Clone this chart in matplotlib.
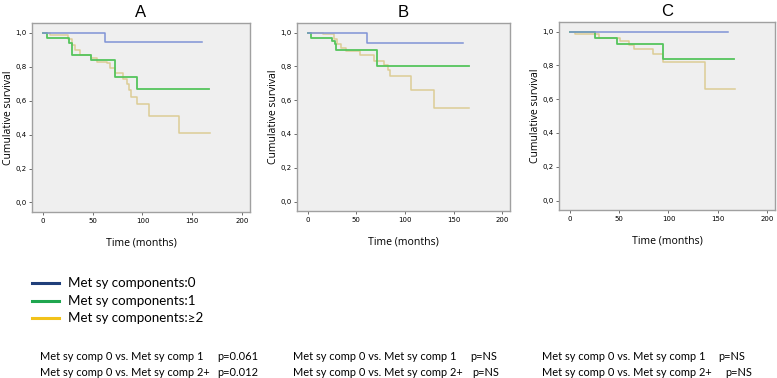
import matplotlib.pyplot as plt

# Kaplan-Meier step data (months, cumulative survival)
a_blue_t = [0, 62, 160]
a_blue_s = [1.0, 0.945, 0.945]
a_green_t = [0, 4, 26, 29, 48, 72, 94, 167]
a_green_s = [1.0, 0.97, 0.94, 0.87, 0.84, 0.74, 0.67, 0.67]
a_yel_t = [0, 7, 25, 29, 32, 37, 48, 54, 64, 67, 72, 80, 84, 86, 88, 94, 107, 137, 168]
a_yel_s = [1.0, 0.985, 0.96, 0.93, 0.90, 0.87, 0.85, 0.83, 0.82, 0.79, 0.76, 0.73, 0.70,
           0.66, 0.62, 0.58, 0.507, 0.408, 0.408]

b_blue_t = [0, 61, 160]
b_blue_s = [1.0, 0.94, 0.94]
b_green_t = [0, 3.5, 25, 28, 29.5, 71, 166]
b_green_s = [1.0, 0.97, 0.95, 0.93, 0.90, 0.80, 0.80]
b_yel_t = [0, 16, 27, 30, 34, 39, 54, 68, 78, 83, 85, 106, 130, 166]
b_yel_s = [1.0, 0.99, 0.96, 0.93, 0.91, 0.89, 0.87, 0.83, 0.81, 0.78, 0.742, 0.66, 0.551, 0.551]

c_blue_t = [0, 160]
c_blue_s = [1.0, 1.0]
c_green_t = [0, 25, 48, 94, 166]
c_green_s = [1.0, 0.965, 0.925, 0.835, 0.835]
c_yel_t = [0, 5, 30, 51, 60, 65, 84, 94, 137, 167]
c_yel_s = [1.0, 0.985, 0.965, 0.945, 0.92, 0.895, 0.865, 0.82, 0.659, 0.659]

panels = ["A", "B", "C"]
legend_labels = ["Met sy components:0", "Met sy components:1", "Met sy components:\u22652"]
comparisons = ["Met sy comp 0 vs. Met sy comp 1", "Met sy comp 0 vs. Met sy comp 2+"]
p_values = [["p=0.061", "p=0.012"], ["p=NS", "p=NS"], ["p=NS", "p=NS"]]

yticks = [0, 0.2, 0.4, 0.6, 0.8, 1.0]
ytick_labels = ["0,0", "0,2", "0,4", "0,6", "0,8", "1,0"]
xticks = [0, 50, 100, 150, 200]

curve_blue = "#7f93d6"
curve_green = "#55c45c"
curve_yel = "#dccd95"

W, H = 777, 378
fig = plt.figure(figsize=(W / 100, H / 100), dpi=100)

boxes = [(32, 250, 23, 212), (297, 510, 23, 211), (559, 775, 22, 210)]
data = [
    (a_blue_t, a_blue_s, a_green_t, a_green_s, a_yel_t, a_yel_s),
    (b_blue_t, b_blue_s, b_green_t, b_green_s, b_yel_t, b_yel_s),
    (c_blue_t, c_blue_s, c_green_t, c_green_s, c_yel_t, c_yel_s),
]

for (x0, x1, y0, y1), d, name in zip(boxes, data, panels):
    ax = fig.add_axes([x0 / W, 1 - y1 / H, (x1 - x0) / W, (y1 - y0) / H])
    ax.set_facecolor("#efefef")
    bt, bs, gt, gs, yt, ys = d
    ax.step(yt, ys, where="post", color=curve_yel, lw=1.1)
    ax.step(gt, gs, where="post", color=curve_green, lw=1.3)
    ax.step(bt, bs, where="post", color=curve_blue, lw=1.1)
    ax.set_xlim(-11, 208)
    ax.set_ylim(-0.056, 1.057)
    ax.set_xticks(xticks)
    ax.set_yticks(yticks)
    ax.set_yticklabels(ytick_labels)
    ax.tick_params(labelsize=5, length=2, width=0.6, color="#555555", pad=2)
    for sp in ax.spines.values():
        sp.set_color("#a0a0a0")
        sp.set_linewidth(1.0)
    ax.set_title(name, fontsize=12, pad=4, family="Liberation Sans")
    ax.set_ylabel("Cumulative survival", fontsize=7.5, labelpad=1, family="Open Sans")
    ax.set_xlabel("Time (months)", fontsize=7.6, labelpad=10, family="Open Sans")

# legend drawn by hand under panel A
leg_colors = ["#203f7a", "#1fa64f", "#f2c21a"]
leg_y = [283, 301, 318]
for c, y, lab in zip(leg_colors, leg_y, legend_labels):
    fig.add_artist(plt.Line2D([32 / W, 59 / W], [1 - y / H, 1 - y / H], color=c, lw=2.2))
    fig.text(68 / W, 1 - y / H, lab, fontsize=9.6, va="center", family=["Lato", "DejaVu Sans"])

# p-value text
col_x = [40, 293, 542]
p_x = [[217, 217], [470, 472], [718, 725]]
row_y = [356, 372]
for i in range(3):
    for j in range(2):
        fig.text(col_x[i] / W, 1 - row_y[j] / H, comparisons[j], fontsize=7.9,
                 va="center", family="Lato")
        fig.text(p_x[i][j] / W, 1 - row_y[j] / H, p_values[i][j], fontsize=7.9,
                 va="center", family="Lato")

fig.savefig("out.png", dpi=100)
